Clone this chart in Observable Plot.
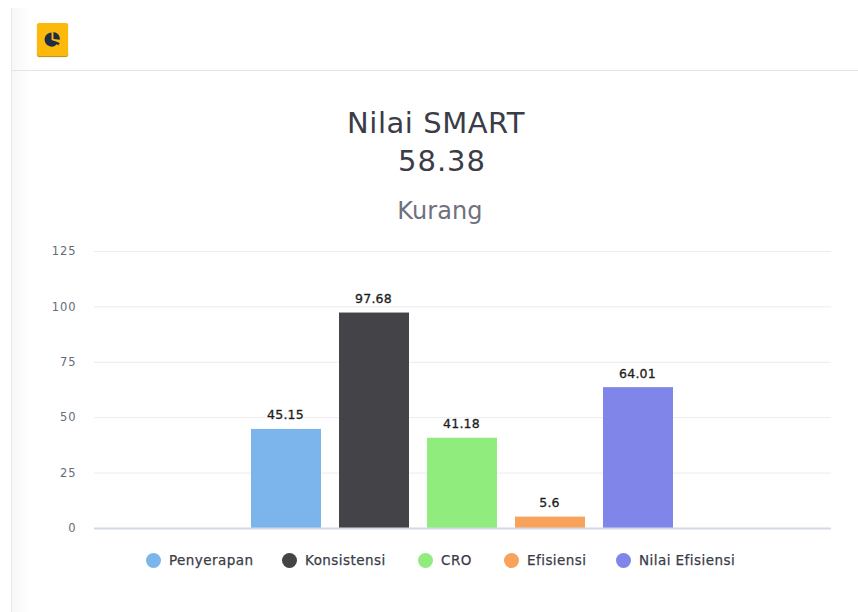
<!DOCTYPE html>
<html><head><meta charset="utf-8">
<script src="https://cdn.jsdelivr.net/npm/d3@7"></script>
<script src="https://cdn.jsdelivr.net/npm/@observablehq/plot@0.6"></script>
<style>
html,body{margin:0;padding:0;background:#fff;width:858px;height:612px;overflow:hidden;font-family:"DejaVu Sans",sans-serif}
#page{position:relative;width:858px;height:612px}
#edge{position:absolute;left:11px;top:8px;width:20px;height:604px;background:linear-gradient(90deg,#f7f7f8,#fff);border-left:1px solid #e8e8ea;box-sizing:border-box}
#rule{position:absolute;left:12px;top:70px;width:846px;height:1px;background:#e4e4e6}
#icon{position:absolute;left:37px;top:23px;width:31px;height:33px;background:#fdb90b;border-radius:2px;box-shadow:0 1px 1px #b98a10;display:flex;align-items:center;justify-content:center}
.t{position:absolute;left:12px;width:846px;text-align:center;white-space:nowrap}
#t1{top:105px;font-size:29px;line-height:36px;color:#3a3c48;letter-spacing:.55px;left:13px}
#t2{top:143px;font-size:29px;line-height:36px;color:#3a3c48;letter-spacing:1px;left:19px}
#t3{top:195px;font-size:24px;line-height:32px;color:#6f7180;letter-spacing:.1px;left:17px}
#chart{position:absolute;left:0;top:240px}
#chart text{letter-spacing:.9px}
#chart text.v,#chart .v text{letter-spacing:.2px}
#legend{position:absolute;left:0;top:550px;height:20px;width:858px;font-size:13.5px;color:#3a3c48}
.li{position:absolute;top:0;display:flex;align-items:center;height:20px;white-space:nowrap;letter-spacing:.45px;-webkit-text-stroke:.25px #3a3c48}
.li i{display:inline-block;width:15px;height:15px;border-radius:50%;margin-right:8px}
</style></head>
<body><div id="page">
<div id="edge"></div><div id="rule"></div>
<div id="icon"><svg width="19" height="19" viewBox="0 0 20 20"><path fill="#1f2d46" d="M9 2.5a7.5 7.5 0 1 0 7 10.5l-7-2.5z"/><path fill="#1f2d46" d="M11 2a7.5 7.5 0 0 1 6.8 8.2l-6.8-.6z"/><path fill="#1f2d46" d="M12 12l5.6 1.6-1.6 2.6z"/></svg></div>
<div class="t" id="t1"></div><div class="t" id="t2"></div><div class="t" id="t3"></div>
<div id="chart"></div><div id="legend"></div>
</div>
<script>
const categories = ["Penyerapan","Konsistensi","CRO","Efisiensi","Nilai Efisiensi"];
const values = [45.15,97.68,41.18,5.6,64.01];
const labels = ["45.15","97.68","41.18","5.6","64.01"];
const colors = ["#7cb5ec","#434348","#90ed7d","#f7a35c","#8085e9"];
const yTicks = [0,25,50,75,100,125];
const titleLine = "Nilai SMART";
const scoreLine = "58.38";
const gradeLine = "Kurang";
const legendLeft = [146,282,418,504,616];

document.getElementById("t1").textContent = titleLine;
document.getElementById("t2").textContent = scoreLine;
document.getElementById("t3").textContent = gradeLine;

const rows = categories.map((c,i)=>({category:c,value:values[i],label:labels[i],color:colors[i]}));

const plot = Plot.plot({
  width:858,height:300,
  marginLeft:94,marginRight:27,marginTop:11,marginBottom:12,
  style:{background:"transparent",fontFamily:"'DejaVu Sans',sans-serif"},
  x:{domain:categories,insetLeft:147.5,insetRight:148.5,paddingInner:0.205,paddingOuter:0.1025,axis:null},
  y:{domain:[0,125],ticks:yTicks,axis:null},
  marks:[
    Plot.gridY(yTicks.filter(d=>d>0),{stroke:"#ececef",strokeOpacity:1,strokeWidth:1}),
    Plot.barY(rows,{x:"category",y:"value",fill:"color",insetTop:1}),
    Plot.ruleY([0],{stroke:"#d3d8ea",strokeWidth:2}),
    Plot.axisY({ticks:yTicks,tickSize:0,tickPadding:0,anchor:"left",dx:-18,fontSize:11.5,color:"#666b7a",label:null,textAnchor:"end"}),
    Plot.text(rows,{x:"category",y:"value",text:"label",dy:-13,dx:-1,fill:"#1c1c22",fontSize:12.5,className:"v",stroke:"#1c1c22",strokeWidth:0.3,lineAnchor:"middle"})
  ]
});
document.getElementById("chart").appendChild(plot);

const lg = document.getElementById("legend");
categories.forEach((c,i)=>{
  const d=document.createElement("div");d.className="li";d.style.left=legendLeft[i]+"px";
  const m=document.createElement("i");m.style.background=colors[i];
  d.appendChild(m);d.appendChild(document.createTextNode(c));lg.appendChild(d);
});
</script>
</body></html>
